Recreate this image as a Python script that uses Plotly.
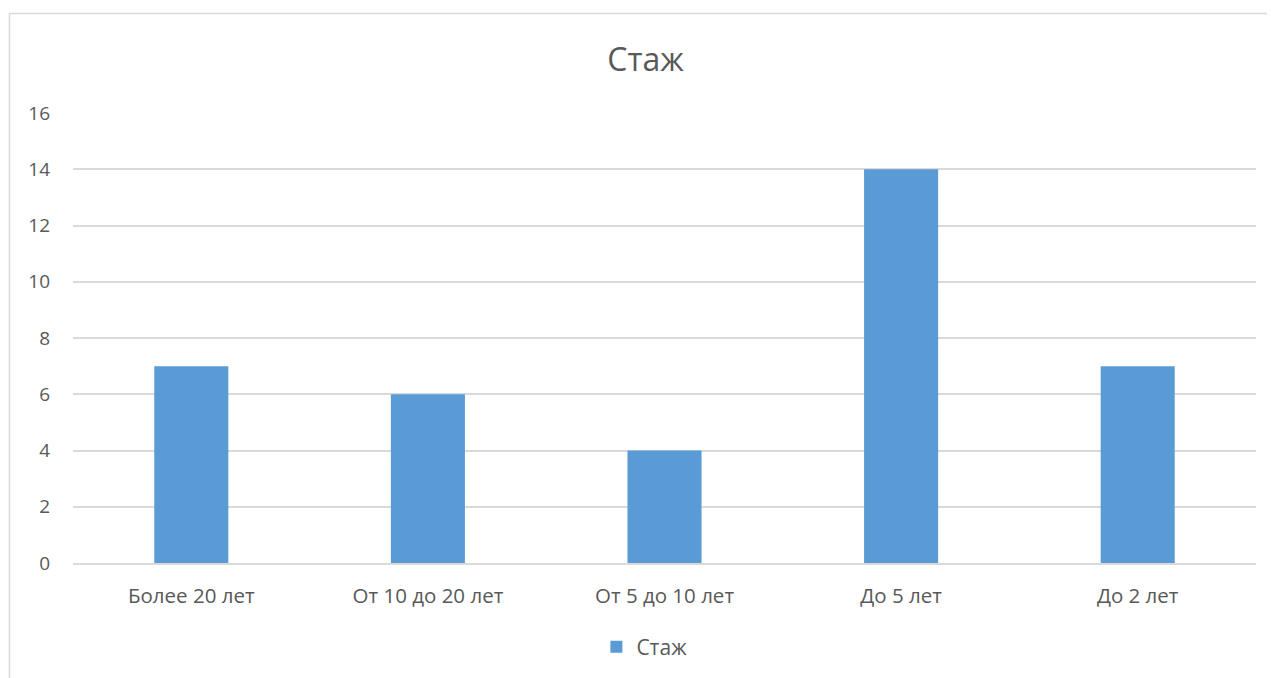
import plotly.graph_objects as go

# data
categories = ['Более 20 лет', 'От 10 до 20 лет', 'От 5 до 10 лет', 'До 5 лет', 'До 2 лет']
values = [7, 6, 4, 14, 7]
series_name = 'Стаж'
y_ticks = [0, 2, 4, 6, 8, 10, 12, 14, 16]

bar_color = '#5B9BD5'
text_color = '#595959'
grid_color = '#D9D9D9'
font_family = '"Open Sans", "Noto Sans", sans-serif'

fig = go.Figure()
fig.add_trace(go.Bar(x=categories, y=values, name=series_name,
                     marker_color=bar_color, marker_line_width=0))

# page body has an 8px margin, so everything is shifted by 8px here
fig.update_layout(
    width=1275, height=678,
    margin=dict(l=65, r=27, t=105, b=123),
    paper_bgcolor='white', plot_bgcolor='white',
    font=dict(family=font_family, size=20, color=text_color),
    title=dict(text='Стаж', x=0.5, xanchor='center', y=0.923, yanchor='middle',
               font=dict(size=32, color=text_color)),
    bargap=0.687,
    showlegend=True,
    legend=dict(orientation='h', x=0.483, xanchor='center', y=-0.187, yanchor='middle',
                itemwidth=30, font=dict(size=21, color=text_color)),
)

fig.update_yaxes(range=[0, 16], tickvals=y_ticks, showgrid=True, gridcolor=grid_color,
                 gridwidth=1.5, zeroline=False, showline=False, ticks='',
                 ticklabelstandoff=22, tickfont=dict(size=19))
fig.update_xaxes(showgrid=False, showline=True, linecolor=grid_color, linewidth=1.5,
                 ticks='', ticklabelstandoff=14, tickfont=dict(size=20.5))

# chart area border (Excel style), only top and left edges are visible
fig.add_shape(type='line', xref='paper', yref='paper', x0=-0.0537, x1=1.1, y0=1.2211, y1=1.2211,
              line=dict(color=grid_color, width=1.5))
fig.add_shape(type='line', xref='paper', yref='paper', x0=-0.0537, x1=-0.0537, y0=1.2211, y1=-0.5,
              line=dict(color=grid_color, width=1.5))

fig.write_html('out.html')
